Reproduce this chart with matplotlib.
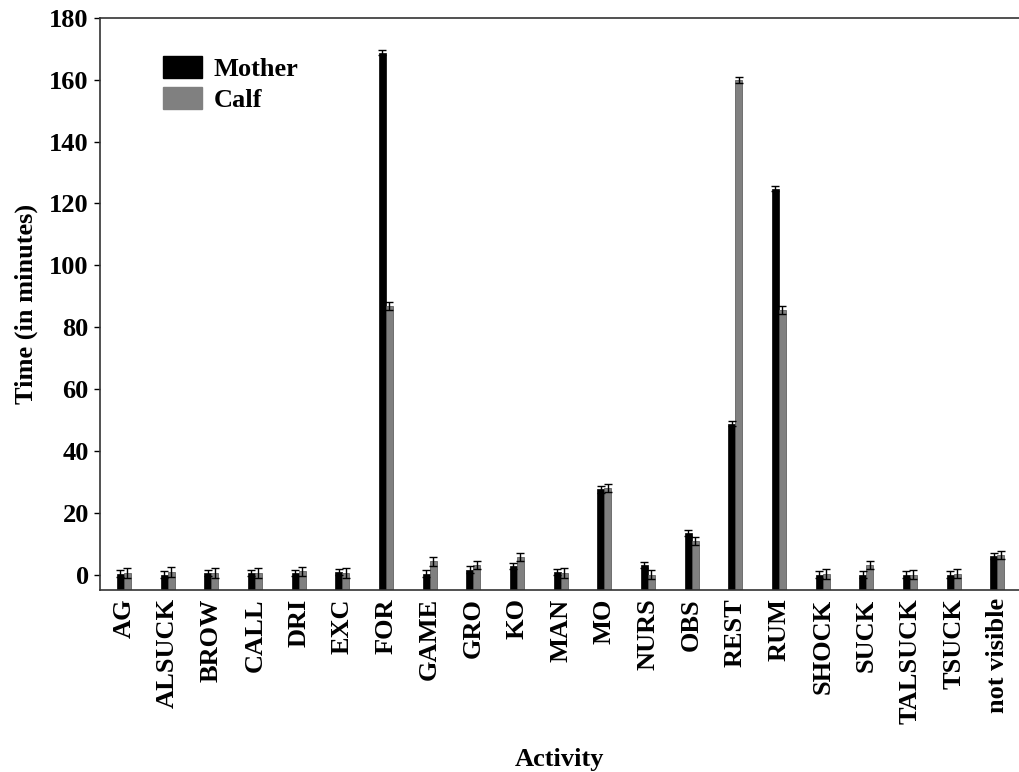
import matplotlib
matplotlib.use("Agg")
import matplotlib.pyplot as plt
import numpy as np
from matplotlib.patches import Patch

categories = ["AG", "ALSUCK", "BROW", "CALL", "DRI", "EXC", "FOR", "GAME", "GRO", "KO",
              "MAN", "MO", "NURS", "OBS", "REST", "RUM", "SHOCK", "SUCK", "TALSUCK",
              "TSUCK", "not visible"]
mother = [0.3, 0.0, 0.5, 0.5, 0.5, 0.8, 168.8, 0.3, 1.6, 2.7,
          0.8, 27.5, 3.2, 13.5, 48.8, 124.8, 0.0, 0.0, 0.0, 0.0, 6.1]
mother_err = [1.0, 1.0, 1.0, 1.0, 1.0, 1.0, 0.7, 1.0, 1.0, 1.0,
              1.0, 1.0, 1.0, 1.0, 0.7, 0.7, 1.0, 1.0, 1.0, 1.0, 1.0]
calf = [0.5, 0.8, 0.5, 0.5, 1.0, 0.5, 86.8, 4.3, 3.0, 5.7,
        0.5, 28.0, 0.0, 10.8, 160.0, 85.7, 0.2, 3.2, 0.0, 0.3, 6.2]
calf_err = [1.5, 1.5, 1.5, 1.5, 1.5, 1.5, 1.3, 1.5, 1.3, 1.3,
            1.5, 1.3, 1.5, 1.3, 1.0, 1.3, 1.5, 1.3, 1.5, 1.5, 1.3]
yticks = [0, 20, 40, 60, 80, 100, 120, 140, 160, 180]

plt.rcParams['font.family'] = ['Liberation Serif', 'DejaVu Serif']
plt.rcParams['font.weight'] = 'bold'

fig = plt.figure(figsize=(10.2, 7.72), dpi=100)
ax = fig.add_axes([0.098, 0.2358, 0.902, 0.7409])

ymin, ymax = -5, 180
x = np.arange(len(categories))
w = 0.16
m = np.array(mother)
c = np.array(calf)
ax.bar(x - w / 2, m - ymin, w, bottom=ymin, color='black', edgecolor='black', linewidth=0.5, zorder=2)
ax.bar(x + w / 2, c - ymin, w, bottom=ymin, color='#808080', edgecolor='#505050', linewidth=0.5, zorder=2)
ax.errorbar(x - w / 2, m, yerr=mother_err, fmt='none', ecolor='black', elinewidth=1, capsize=3, capthick=1, zorder=3)
ax.errorbar(x + w / 2, c, yerr=calf_err, fmt='none', ecolor='black', elinewidth=1, capsize=3, capthick=1, zorder=3)

ax.set_xlim(-0.55, len(categories) - 0.48)
ax.set_ylim(ymin, ymax)
ax.set_yticks(yticks)
ax.set_yticklabels([str(t) for t in yticks], fontsize=19, fontweight='bold')
ax.set_xticks(x)
ax.set_xticklabels(categories, rotation=90, fontsize=19, fontweight='bold')
ax.tick_params(axis='x', length=0, pad=6)
ax.tick_params(axis='y', length=4, width=1, pad=4, direction='out')
ax.spines['right'].set_visible(False)
for s in ['left', 'bottom', 'top']:
    ax.spines[s].set_linewidth(1.2)
    ax.spines[s].set_color('#333333')

ax.set_ylabel("Time (in minutes)", fontsize=19, fontweight='bold', labelpad=8)
ax.set_xlabel("Activity", fontsize=19, fontweight='bold')
ax.xaxis.set_label_coords(0.5, -0.277)

handles = [Patch(facecolor='black', edgecolor='black', label='Mother'),
           Patch(facecolor='#808080', edgecolor='#808080', label='Calf')]
leg = ax.legend(handles=handles, loc='upper left', bbox_to_anchor=(0.068, 0.933),
                frameon=False, prop={'size': 19, 'weight': 'bold'},
                handlelength=1.5, handleheight=0.9, labelspacing=0.2,
                handletextpad=0.45, borderpad=0, borderaxespad=0)

fig.savefig("out.png", dpi=100)
